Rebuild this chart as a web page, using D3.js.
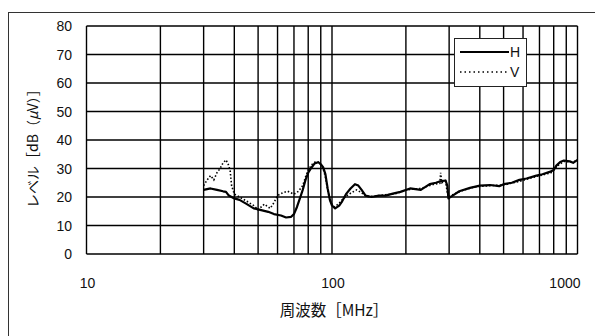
<!DOCTYPE html>
<html>
<head>
<meta charset="utf-8">
<script src="https://cdn.jsdelivr.net/npm/d3@7"></script>
<style>
  body { margin: 0; background: #fff; }
  svg { display: block; }
  text { font-family: "Liberation Sans", Arial, "Noto Sans CJK JP", sans-serif; fill: #111; }
  .jp { font-family: "Noto Sans CJK JP", "Liberation Sans", sans-serif; }
</style>
</head>
<body>
<svg id="chart" width="595" height="336"></svg>
<script>
  // tick values
  const yTicks = [0, 10, 20, 30, 40, 50, 60, 70, 80];
  const xLabels = [10, 100, 1000];
  const xGrid = [20, 30, 40, 50, 60, 70, 80, 90, 100, 200, 300, 400, 500, 600, 700, 800, 900, 1000];

  // H: solid trace [MHz, dB(uV)]
  const seriesH = [
    [30, 22.5], [32, 23], [34, 22.5], [36, 22], [37, 21.8], [38, 20.5], [40, 19.5], [42, 19],
    [45, 17.5], [48, 16], [51, 15.5], [55, 14.8], [58, 14], [62, 13.5], [65, 12.8], [68, 13],
    [70, 14], [72, 16.5], [74, 19.5], [76, 22.5], [78, 26], [80, 28.5], [82, 30], [85, 31.8],
    [88, 32.2], [90, 31.5], [92, 30.5], [94, 28], [96, 23], [98, 19], [100, 17], [103, 16],
    [107, 17], [110, 18.5], [114, 21], [119, 23], [124, 24.5], [128, 24], [132, 22.5], [137, 20.5],
    [145, 20], [155, 20.5], [165, 20.5], [177, 21.2], [190, 21.8], [208, 23], [230, 22.5],
    [250, 24.5], [265, 25], [276, 25.5], [290, 25.8], [295, 24], [298, 19.5], [310, 20.5],
    [330, 22], [365, 23.2], [400, 24], [440, 24.2], [480, 23.8], [500, 24.5], [540, 25],
    [580, 26], [620, 26.5], [680, 27.5], [720, 28], [770, 28.8], [800, 29.5], [820, 31],
    [850, 32.3], [880, 32.8], [930, 32.5], [960, 32], [1000, 33]
  ];

  // V: dotted trace
  const seriesV = [
    [30, 24], [31, 26], [32, 27.5], [33, 26], [34, 28.5], [35, 30], [36, 32], [37, 33],
    [38, 31], [38.5, 29], [39, 24], [40, 21], [42, 20], [45, 18.5], [48, 17], [50, 15.5],
    [53, 17.5], [56, 16], [58, 18], [60, 20.5], [63, 21.5], [66, 22], [70, 21], [73, 22],
    [76, 24], [78, 27], [80, 29.5], [83, 31.5], [86, 32.5], [89, 32], [92, 30], [94, 27],
    [96, 22.5], [99, 18], [102, 16.5], [106, 17.5], [110, 19], [115, 20.5], [120, 21.5],
    [126, 22.5], [132, 21.5], [138, 20.2], [150, 20.3], [165, 20.8], [180, 21], [200, 22.5],
    [230, 23], [260, 24.5], [275, 24.8], [277, 28.5], [280, 25], [290, 25.5], [297, 20],
    [310, 20.8], [340, 22.3], [380, 23.5], [440, 24], [500, 24.2], [580, 25.5], [680, 27.2],
    [780, 28.5], [830, 31], [880, 32.5], [950, 32.3], [1000, 32.8]
  ];

  const svg = d3.select('#chart');
  const plot = { left: 86.5, right: 577.5, top: 26, bottom: 254 };

  const x = d3.scaleLog().domain([10, 1000]).range([plot.left, plot.right]);
  const y = d3.scaleLinear().domain([0, 80]).range([plot.bottom, plot.top]);

  // outer frame (runs off the bottom/right of the picture)
  svg.append('rect')
    .attr('x', 8.5).attr('y', 12.5)
    .attr('width', 700).attr('height', 400)
    .attr('fill', 'none')
    .attr('stroke', '#333')
    .attr('stroke-width', 1);

  // grid
  const grid = svg.append('g').attr('stroke', '#000').attr('stroke-width', 1.4);
  grid.selectAll('line.h')
    .data(yTicks)
    .join('line')
    .attr('class', 'h')
    .attr('x1', plot.left).attr('x2', x(1000))
    .attr('y1', d => y(d)).attr('y2', d => y(d));
  grid.selectAll('line.v')
    .data([10].concat(xGrid))
    .join('line')
    .attr('class', 'v')
    .attr('x1', d => x(d)).attr('x2', d => x(d))
    .attr('y1', plot.top).attr('y2', plot.bottom);

  // tick labels
  svg.append('g')
    .selectAll('text')
    .data(yTicks)
    .join('text')
    .attr('x', 72)
    .attr('y', d => y(d) + 5)
    .attr('text-anchor', 'end')
    .attr('font-size', 14)
    .text(d => d);

  // last label sits inside the right edge
  svg.append('g')
    .selectAll('text')
    .data(xLabels)
    .join('text')
    .attr('x', (d, i) => i === xLabels.length - 1 ? x(d) + 3 : x(d) + 1)
    .attr('y', 288)
    .attr('text-anchor', (d, i) => i === xLabels.length - 1 ? 'end' : 'middle')
    .attr('font-size', 14)
    .text(d => d);

  // axis titles
  svg.append('text')
    .attr('class', 'jp')
    .attr('x', (plot.left + plot.right) / 2 + 2)
    .attr('y', 316)
    .attr('text-anchor', 'middle')
    .attr('font-size', 15.5)
    .text('周波数［MHz］');

  const yt = svg.append('text')
    .attr('class', 'jp')
    .attr('transform', 'translate(38,145) rotate(-90)')
    .attr('text-anchor', 'middle')
    .attr('font-size', 14);
  yt.append('tspan').text('レベル［dB（');
  yt.append('tspan').attr('font-style', 'italic').text('μ');
  yt.append('tspan').text('V）］');

  // traces
  const line = d3.line()
    .x(d => x(d[0]))
    .y(d => y(d[1]));

  svg.append('path')
    .datum(seriesV)
    .attr('d', line)
    .attr('fill', 'none')
    .attr('stroke', '#000')
    .attr('stroke-width', 1.6)
    .attr('stroke-dasharray', '1.5,2');

  svg.append('path')
    .datum(seriesH)
    .attr('d', line)
    .attr('fill', 'none')
    .attr('stroke', '#000')
    .attr('stroke-width', 2.2)
    .attr('stroke-linejoin', 'round');

  // legend
  const lg = svg.append('g').attr('transform', 'translate(454,38)');
  lg.append('rect')
    .attr('x', 0.5).attr('y', 0.5)
    .attr('width', 72).attr('height', 48)
    .attr('fill', '#fff')
    .attr('stroke', '#222')
    .attr('stroke-width', 1);
  lg.append('line')
    .attr('x1', 6).attr('x2', 55).attr('y1', 14).attr('y2', 14)
    .attr('stroke', '#000').attr('stroke-width', 2);
  lg.append('line')
    .attr('x1', 6).attr('x2', 55).attr('y1', 34).attr('y2', 34)
    .attr('stroke', '#000').attr('stroke-width', 1.6)
    .attr('stroke-dasharray', '1.5,3');
  lg.append('text').attr('x', 56).attr('y', 19).attr('font-size', 14).text('H');
  lg.append('text').attr('x', 56).attr('y', 39).attr('font-size', 14).text('V');
</script>
</body>
</html>
